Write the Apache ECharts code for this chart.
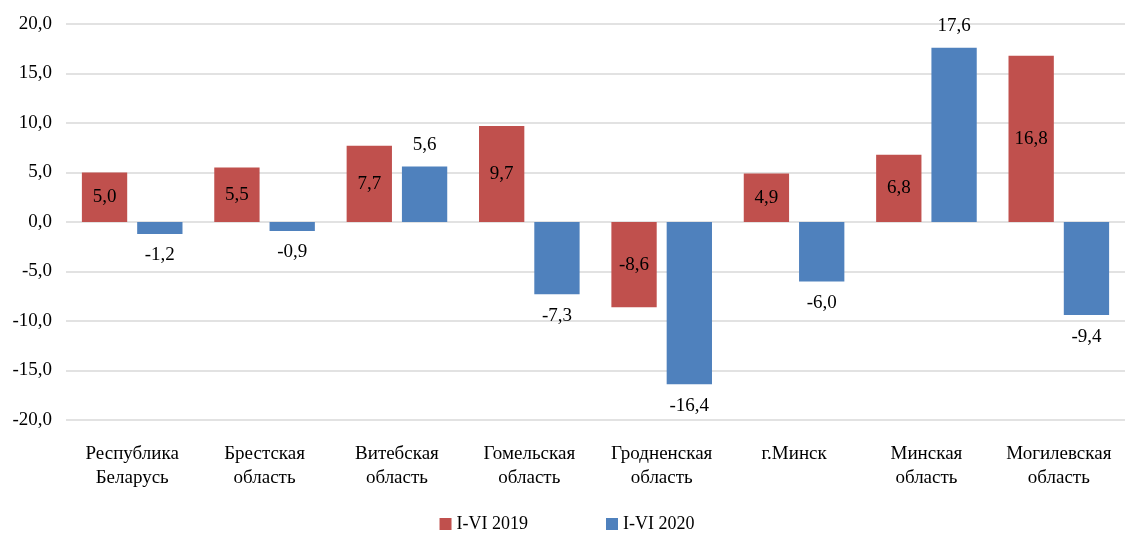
<!DOCTYPE html>
<html>
<head>
<meta charset="utf-8">
<script src="https://cdn.jsdelivr.net/npm/echarts@6/dist/echarts.min.js"></script>
<style>
  html, body { margin: 0; padding: 0; background: #fff; }
  #main { width: 1134px; height: 540px; }
</style>
</head>
<body>
<div id="main"></div>
<script>
const regions = [
  "Республика\nБеларусь",
  "Брестская\nобласть",
  "Витебская\nобласть",
  "Гомельская\nобласть",
  "Гродненская\nобласть",
  "г.Минск",
  "Минская\nобласть",
  "Могилевская\nобласть"
];
const values2019 = [5.0, 5.5, 7.7, 9.7, -8.6, 4.9, 6.8, 16.8];
const values2020 = [-1.2, -0.9, 5.6, -7.3, -16.4, -6.0, 17.6, -9.4];
const seriesNames = ["I-VI 2019", "I-VI 2020"];

const font = "Times New Roman, Liberation Serif, DejaVu Serif, serif";
const fmt = v => v.toFixed(1).replace(".", ",");

let myChart = echarts.init(document.getElementById("main"));
let option = {
  textStyle: { fontFamily: font },
  animation: false,
  grid: { left: 66, right: 9, top: 24, bottom: 120 },
  legend: {
    bottom: 2,
    left: "center",
    itemWidth: 12,
    itemHeight: 12,
    itemGap: 78,
    icon: "rect",
    textStyle: { fontFamily: font, fontSize: 18, color: "#000" },
    data: seriesNames
  },
  xAxis: {
    type: "category",
    data: regions,
    axisLine: { show: false },
    axisTick: { show: false },
    axisLabel: {
      margin: 22,
      fontFamily: font,
      fontSize: 19,
      color: "#000",
      lineHeight: 24,
      interval: 0
    }
  },
  yAxis: {
    type: "value",
    min: -20,
    max: 20,
    interval: 5,
    axisLine: { show: false },
    axisTick: { show: false },
    axisLabel: {
      margin: 14,
      fontFamily: font,
      fontSize: 19,
      color: "#000",
      formatter: v => fmt(v)
    },
    splitLine: { lineStyle: { color: "#d9d9d9", width: 1.5 } }
  },
  series: [
    {
      name: seriesNames[0],
      type: "bar",
      data: values2019,
      barGap: "22%",
      barCategoryGap: "24%",
      itemStyle: { color: "#C0504D" },
      label: {
        show: true,
        position: "inside",
        fontFamily: font,
        fontSize: 19,
        color: "#000",
        formatter: p => fmt(p.value)
      }
    },
    {
      name: seriesNames[1],
      type: "bar",
      data: values2020.map(v => ({
        value: v,
        label: { position: v < 0 ? "bottom" : "top" }
      })),
      barGap: "22%",
      barCategoryGap: "24%",
      itemStyle: { color: "#4F81BD" },
      label: {
        show: true,
        distance: 12,
        fontFamily: font,
        fontSize: 19,
        color: "#000",
        formatter: p => fmt(p.value)
      }
    }
  ]
};
myChart.setOption(option);
</script>
</body>
</html>
